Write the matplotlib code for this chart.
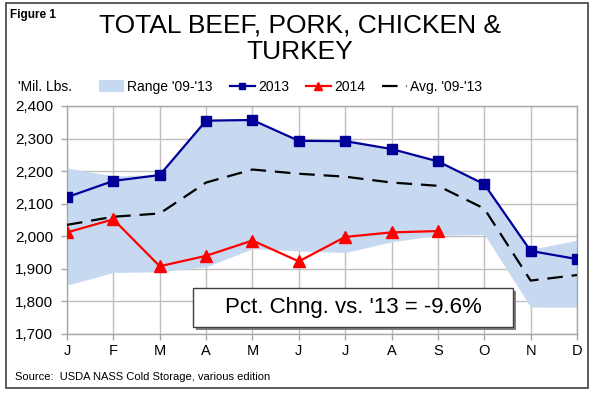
import matplotlib
matplotlib.use('Agg')
import matplotlib.pyplot as plt
from matplotlib.patches import Rectangle, Patch
from matplotlib.lines import Line2D

months = ['J', 'F', 'M', 'A', 'M', 'J', 'J', 'A', 'S', 'O', 'N', 'D']
y2013 = [2120, 2170, 2188, 2355, 2357, 2293, 2292, 2268, 2230, 2160, 1955, 1930]
y2014 = [2012, 2052, 1908, 1940, 1987, 1923, 1998, 2012, 2016]
avg = [2035, 2060, 2070, 2165, 2205, 2192, 2183, 2165, 2155, 2085, 1864, 1881]
range_hi = [2210, 2185, 2190, 2355, 2357, 2296, 2300, 2270, 2232, 2162, 1960, 1988]
range_lo = [1850, 1889, 1891, 1906, 1962, 1955, 1950, 1983, 2003, 2006, 1783, 1782]
yticks = [1700, 1800, 1900, 2000, 2100, 2200, 2300, 2400]

plt.rcParams['font.family'] = ['Liberation Sans', 'DejaVu Sans']

W, H = 595, 394
fig = plt.figure(figsize=(W / 100, H / 100), dpi=100)
fig.patch.set_facecolor('white')

def fx(px):
    return px / W

def fy(py):
    return 1 - py / H

ax = fig.add_axes([fx(67), fy(334), fx(577) - fx(67), fy(106) - fy(334)])
x = list(range(len(months)))

ax.fill_between(x, range_lo, range_hi, color='#C6D9F1', lw=0, zorder=2)
ax.plot(x, avg, color='black', lw=1.6, dashes=(7, 4), zorder=3)
ax.plot(x, y2013, color='#000099', lw=1.6, marker='s', ms=7, zorder=4)
ax.plot(x[:len(y2014)], y2014, color='#FF0000', lw=1.6, marker='^', ms=8, zorder=5)

ax.set_xlim(0, 11)
ax.set_ylim(1700, 2400)
ax.set_xticks(x)
ax.set_xticklabels(months, fontsize=10.5)
ax.set_yticks(yticks)
ax.set_yticklabels([f'{v:,}' for v in yticks], fontsize=11)
ax.grid(True, color='#BFBFBF', lw=1, zorder=0)
ax.set_axisbelow(True)
for s in ax.spines.values():
    s.set_color('#A6A6A6')
    s.set_linewidth(1)
ax.tick_params(axis='both', colors='#A6A6A6', labelcolor='black', length=4, width=1)
ax.tick_params(axis='x', pad=3)
ax.tick_params(axis='y', pad=6)

# Titles and texts
fig.text(fx(10), fy(15), 'Figure 1', fontsize=8.5, fontweight='bold', ha='left', va='center')
fig.text(fx(300), fy(26), 'TOTAL BEEF, PORK, CHICKEN &', fontsize=19, ha='center', va='center')
fig.text(fx(300), fy(52), 'TURKEY', fontsize=19, ha='center', va='center')
fig.text(fx(18), fy(87), "'Mil. Lbs.", fontsize=10, ha='left', va='center')
fig.text(fx(15), fy(377), 'Source:  USDA NASS Cold Storage, various edition', fontsize=8, ha='left', va='center')

handles = [
    Patch(facecolor='#C6D9F1', edgecolor='none', label="Range '09-'13"),
    Line2D([], [], color='#000099', lw=1.6, marker='s', ms=5, label='2013'),
    Line2D([], [], color='#FF0000', lw=1.6, marker='^', ms=6, label='2014'),
    Line2D([], [], color='black', lw=1.6, dashes=(7, 4), label="Avg. '09-'13"),
]
fig.legend(handles=handles, loc='center left', bbox_to_anchor=(fx(99), fy(87)), ncol=4,
           frameon=False, fontsize=10, handlelength=1.8, handleheight=0.9,
           handletextpad=0.25, columnspacing=1.2, borderaxespad=0, borderpad=0)

# Annotation box with shadow
bx0, bx1, by0, by1 = 193, 513, 288, 327
fig.add_artist(Rectangle((fx(bx0 + 3), fy(by1 + 3)), fx(bx1) - fx(bx0), fy(by0) - fy(by1),
                         transform=fig.transFigure, facecolor='#7F7F7F', edgecolor='none', zorder=10))
fig.add_artist(Rectangle((fx(bx0), fy(by1)), fx(bx1) - fx(bx0), fy(by0) - fy(by1),
                         transform=fig.transFigure, facecolor='white', edgecolor='#404040', lw=1, zorder=11))
fig.text(fx((bx0 + bx1) / 2), fy((by0 + by1) / 2), "Pct. Chng. vs. '13 = -9.6%", fontsize=16,
         ha='center', va='center', zorder=12)

# Figure frame
fig.add_artist(Rectangle((fx(6), fy(388)), fx(588) - fx(6), fy(3) - fy(388),
                         transform=fig.transFigure, facecolor='none', edgecolor='#404040', lw=1.2, zorder=20))

fig.savefig('out.png', dpi=100)
